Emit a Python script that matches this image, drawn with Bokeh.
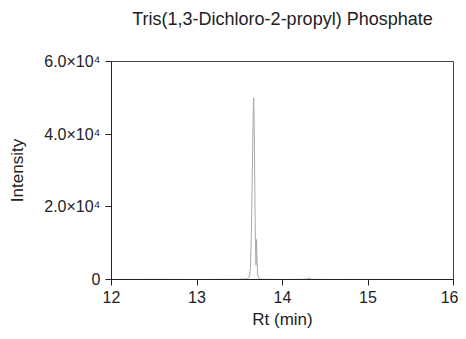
from bokeh.plotting import figure
from bokeh.models import FixedTicker, Range1d, LinearAxis
from bokeh.embed import file_html
from bokeh.resources import INLINE

rt = [12.0, 12.5, 13.0, 13.5, 13.58, 13.61, 13.625, 13.635, 13.645, 13.652, 13.658, 13.663,
      13.668, 13.673, 13.678, 13.684, 13.69, 13.696, 13.702, 13.708, 13.72, 13.74, 13.8,
      14.0, 14.28, 14.31, 14.34, 14.6, 15.0, 15.5, 16.0]
intensity = [0, 40, 0, 60, 150, 600, 3000, 12000, 26000, 38000, 46000, 50000,
             44000, 34000, 20000, 9000, 4000, 11000, 6000, 1500, 400, 100, 50,
             0, 60, 400, 50, 0, 30, 0, 0]

x_ticks = [12, 13, 14, 15, 16]
y_ticks = [0, 20000, 40000, 60000]
y_tick_labels = {0: "0", 20000: "2.0×10⁴", 40000: "4.0×10⁴", 60000: "6.0×10⁴"}
title_text = "Tris(1,3-Dichloro-2-propyl) Phosphate"

FONT = "Liberation Sans"

p = figure(width=458, height=331, output_backend="svg", toolbar_location=None,
           x_range=Range1d(12, 16), y_range=Range1d(0, 60000),
           min_border_left=111, min_border_right=5, min_border_top=61, min_border_bottom=52)

p.line(rt, intensity, line_color="#a8a8a8", line_width=1)

p.xgrid.visible = False
p.ygrid.visible = False
p.outline_line_color = "#444444"
p.outline_line_width = 1
p.background_fill_color = "white"
p.border_fill_color = "white"

bottom_axis = p.below[0]
left_axis = p.left[0]

for ax in (bottom_axis, left_axis):
    ax.axis_line_color = "#222222"
    ax.major_tick_line_color = "#222222"
    ax.major_tick_out = 6
    ax.major_tick_in = 0
    ax.minor_tick_line_color = None
    ax.major_label_text_font = FONT
    ax.major_label_text_font_size = "16px"
    ax.major_label_text_color = "#222222"
    ax.axis_label_text_font = FONT
    ax.axis_label_text_font_size = "17px"
    ax.axis_label_text_font_style = "normal"
    ax.axis_label_text_color = "#222222"

bottom_axis.ticker = FixedTicker(ticks=x_ticks)
left_axis.ticker = FixedTicker(ticks=y_ticks)
left_axis.major_label_overrides = y_tick_labels
bottom_axis.axis_label = "Rt (min)"
left_axis.axis_label = "Intensity"
bottom_axis.axis_label_standoff = 4
left_axis.axis_label_standoff = 14

# title drawn as the label of a bare axis above the frame
top_axis = LinearAxis(ticker=FixedTicker(ticks=[]), axis_line_color=None,
                      major_tick_line_color=None, minor_tick_line_color=None,
                      major_tick_out=0, major_tick_in=0, major_label_standoff=0,
                      axis_label=title_text, axis_label_standoff=33,
                      axis_label_text_font=FONT, axis_label_text_font_size="18px",
                      axis_label_text_font_style="normal", axis_label_text_color="#222222")
p.add_layout(top_axis, "above")

open("out.html", "w").write(file_html(p, INLINE))
